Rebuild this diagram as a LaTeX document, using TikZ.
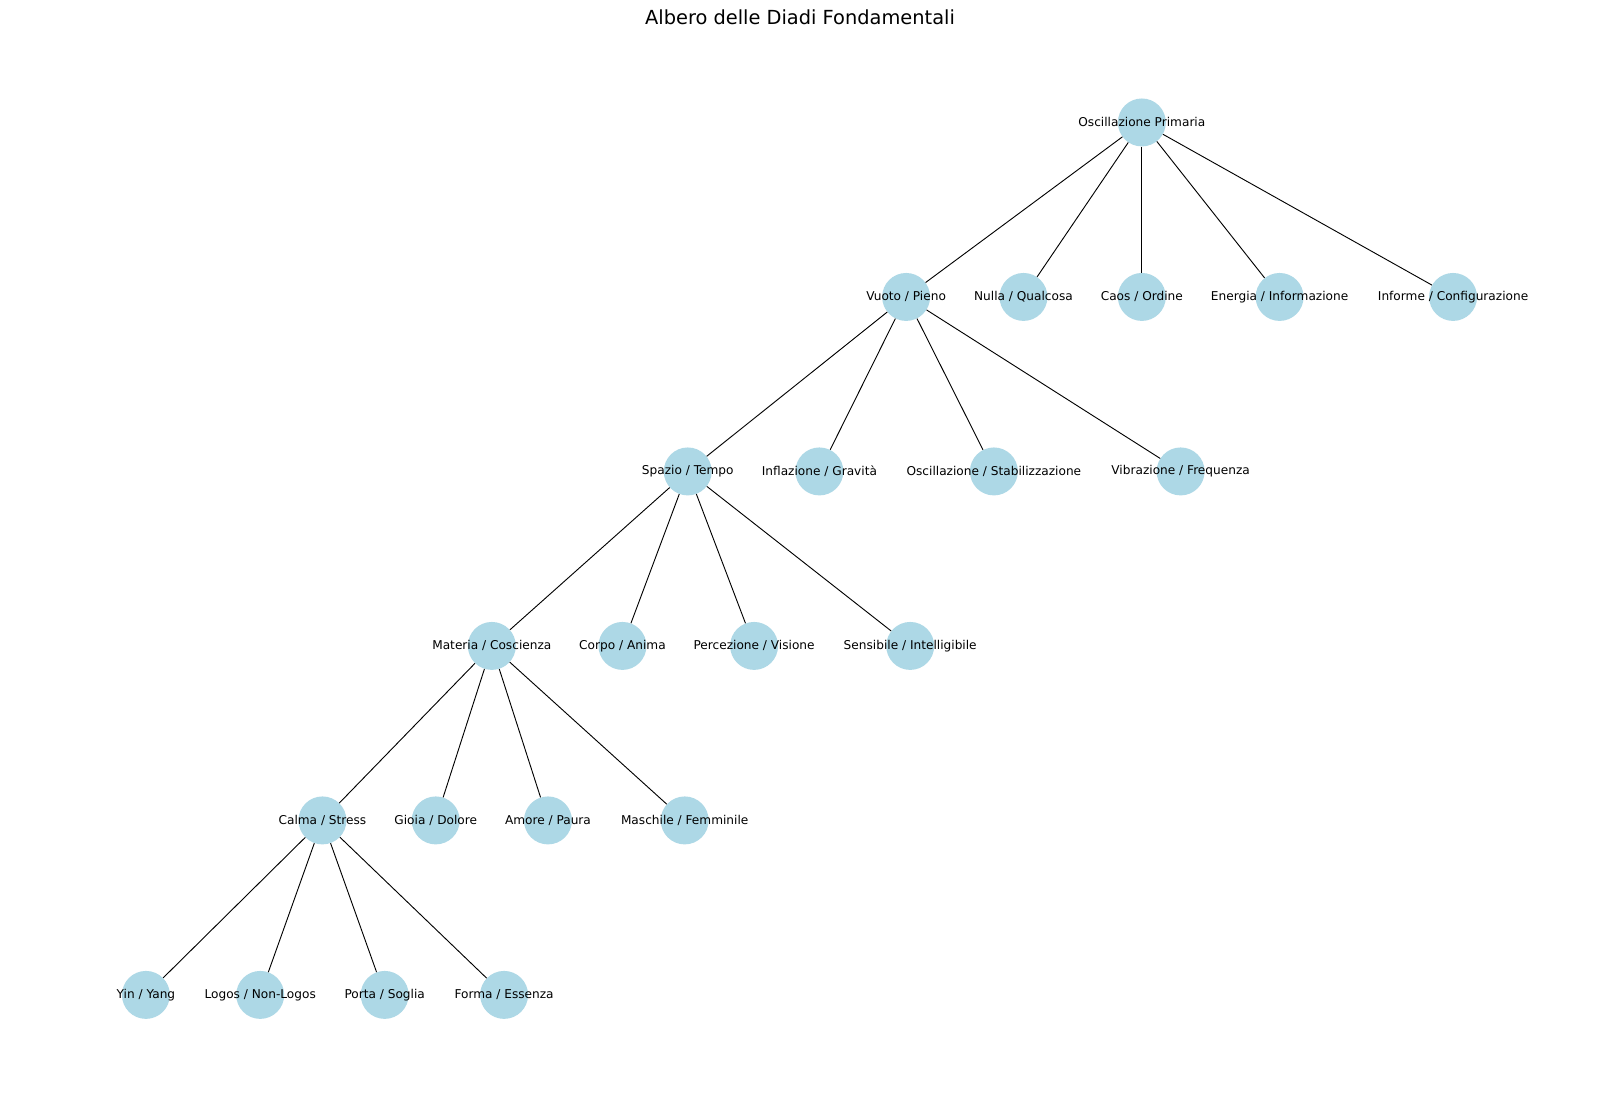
\documentclass[tikz,border=0pt]{standalone}
\usepackage{fontspec}
\setmainfont{DejaVu Sans}
\definecolor{nodeblue}{HTML}{ADD8E6}
\begin{document}
\begin{tikzpicture}[x=1pt,y=-1pt,
  dyad/.style={circle,fill=nodeblue,draw=none,minimum size=47pt,inner sep=0pt},
  lbl/.style={font=\fontsize{11.9}{14}\selectfont,text=black,inner sep=0pt},
  link/.style={draw=black,line width=0.9pt}]
\useasboundingbox (0,0) rectangle (1568,1073);
\fill[white] (0,0) rectangle (1568,1073);
\node[font=\fontsize{19}{22}\selectfont,text=black] (title) at (784,17) {Albero delle Diadi Fondamentali};
% level 0
\node[dyad,label={[lbl]center:Oscillazione Primaria}] (r) at (1119,120) {};
% level 1
\node[dyad,label={[lbl]center:Vuoto / Pieno}] (vp) at (888,291) {};
\node[dyad,label={[lbl]center:Nulla / Qualcosa}] (nq) at (1003,291) {};
\node[dyad,label={[lbl]center:Caos / Ordine}] (co) at (1119,291) {};
\node[dyad,label={[lbl]center:Energia / Informazione}] (ei) at (1254,291) {};
\node[dyad,label={[lbl]center:Informe / Configurazione}] (ic) at (1424,291) {};
% level 2
\node[dyad,label={[lbl]center:Spazio / Tempo}] (st) at (674,462) {};
\node[dyad,label={[lbl]center:Inflazione / Gravità}] (ig) at (803,462) {};
\node[dyad,label={[lbl]center:Oscillazione / Stabilizzazione}] (os) at (974,462) {};
\node[dyad,label={[lbl]center:Vibrazione / Frequenza}] (vf) at (1157,462) {};
% level 3
\node[dyad,label={[lbl]center:Materia / Coscienza}] (mc) at (482,633) {};
\node[dyad,label={[lbl]center:Corpo / Anima}] (ca) at (610,633) {};
\node[dyad,label={[lbl]center:Percezione / Visione}] (pv) at (739,633) {};
\node[dyad,label={[lbl]center:Sensibile / Intelligibile}] (si) at (892,633) {};
% level 4
\node[dyad,label={[lbl]center:Calma / Stress}] (cs) at (316,804) {};
\node[dyad,label={[lbl]center:Gioia / Dolore}] (gd) at (427,804) {};
\node[dyad,label={[lbl]center:Amore / Paura}] (ap) at (537,804) {};
\node[dyad,label={[lbl]center:Maschile / Femminile}] (mf) at (671,804) {};
% level 5
\node[dyad,label={[lbl]center:Yin / Yang}] (yy) at (143,975) {};
\node[dyad,label={[lbl]center:Logos / Non-Logos}] (ln) at (255,975) {};
\node[dyad,label={[lbl]center:Porta / Soglia}] (ps) at (377,975) {};
\node[dyad,label={[lbl]center:Forma / Essenza}] (fe) at (494,975) {};
% connectors
\draw[link] (r) -- (vp);
\draw[link] (r) -- (nq);
\draw[link] (r) -- (co);
\draw[link] (r) -- (ei);
\draw[link] (r) -- (ic);
\draw[link] (vp) -- (st);
\draw[link] (vp) -- (ig);
\draw[link] (vp) -- (os);
\draw[link] (vp) -- (vf);
\draw[link] (st) -- (mc);
\draw[link] (st) -- (ca);
\draw[link] (st) -- (pv);
\draw[link] (st) -- (si);
\draw[link] (mc) -- (cs);
\draw[link] (mc) -- (gd);
\draw[link] (mc) -- (ap);
\draw[link] (mc) -- (mf);
\draw[link] (cs) -- (yy);
\draw[link] (cs) -- (ln);
\draw[link] (cs) -- (ps);
\draw[link] (cs) -- (fe);
\end{tikzpicture}
\end{document}
